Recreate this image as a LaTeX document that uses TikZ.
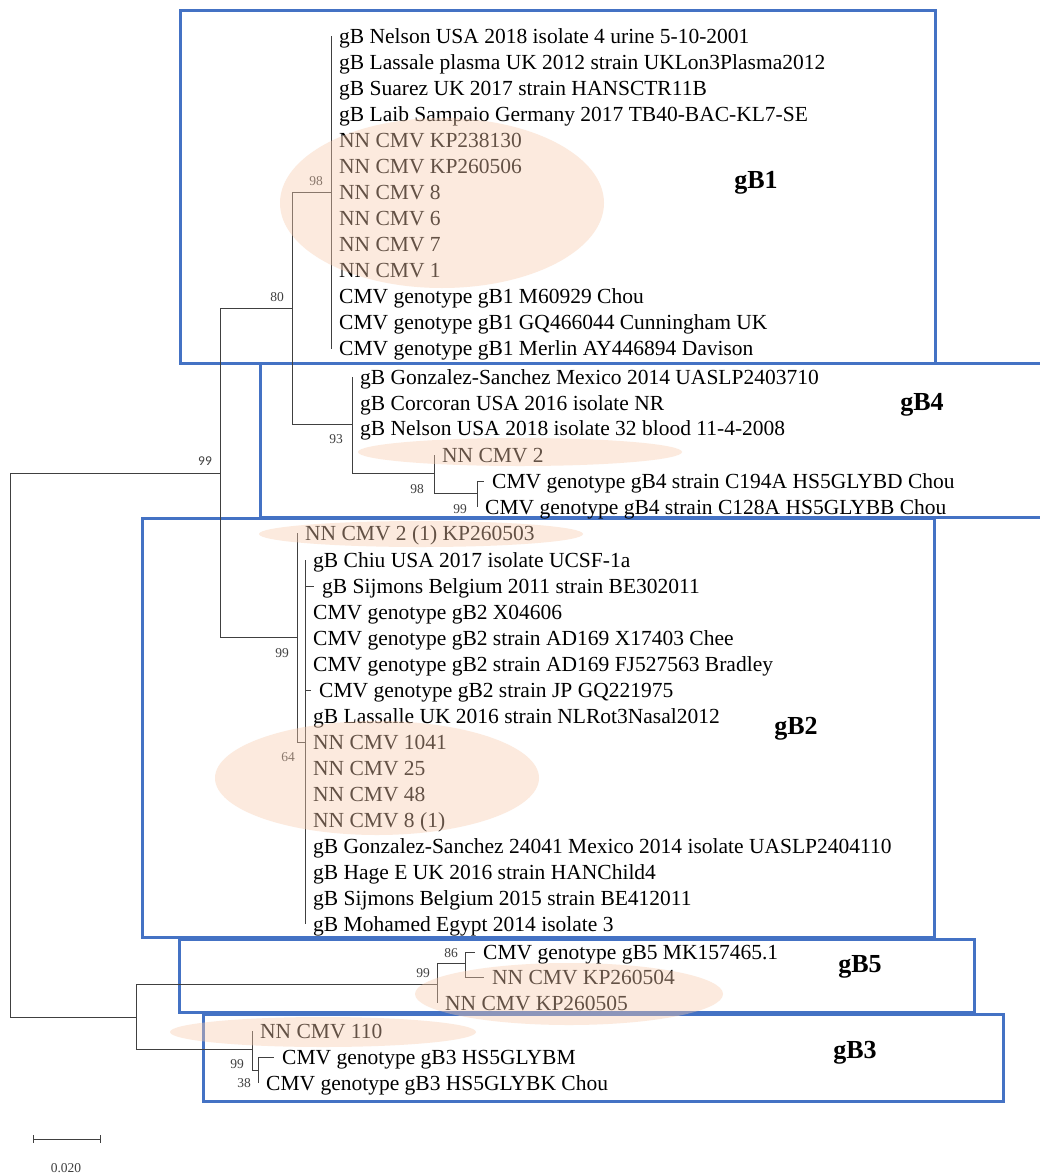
\documentclass[tikz,border=0pt]{standalone}
\usepackage{fontspec}
\setmainfont{Liberation Serif}
\newfontfamily\bootsans{Carlito}
\definecolor{cladeblue}{RGB}{68,114,196}
\definecolor{halopeach}{RGB}{248,203,173}
\definecolor{branchgray}{RGB}{64,64,64}

\begin{document}
\begin{tikzpicture}[x=1pt,y=-1pt,
    branch/.style={draw=branchgray,line width=0.95pt},
    leaf/.style={anchor=west,inner xsep=8pt,inner ysep=0pt,text height=14pt,text depth=0pt,font=\fontsize{21.5}{26}\selectfont},
    boot/.style={inner sep=0pt,text=black!75,font=\fontsize{13.5}{13.5}\selectfont},
    cladebox/.style={draw=cladeblue,line width=3pt},
    cladename/.style={inner sep=0pt,font=\bfseries\fontsize{26}{26}\selectfont},
    halo/.style={fill=halopeach,fill opacity=0.4}]
		\useasboundingbox (0,0) rectangle (1039,1175);
		\fill[white] (0,0) rectangle (1039,1175);

		% genotype boxes
		\draw[cladebox] (180,10) rectangle (935,363);
		\draw[cladebox] (1045,363) -- (260,363) -- (260,517) -- (1045,517);
		\draw[cladebox] (142,518) rectangle (934,937);
		\draw[cladebox] (179,939) rectangle (974,1012);
		\draw[cladebox] (203,1014) rectangle (1003,1101);
		\node[cladename] (lgB1) at (756,183) {gB1};
		\node[cladename] (lgB4) at (922,405) {gB4};
		\node[cladename] (lgB2) at (796,729) {gB2};
		\node[cladename] (lgB5) at (860,967) {gB5};
		\node[cladename] (lgB3) at (855,1053) {gB3};

		% internal nodes
		\coordinate (r) at (10,745);
		\coordinate (a) at (220,473);
		\coordinate (b) at (136,1017);
		\coordinate (n80) at (292,308);
		\coordinate (n98) at (331,192);
		\coordinate (n93) at (352,424);
		\coordinate (n98b) at (434,473);
		\coordinate (n99c) at (477,493);
		\coordinate (n99b) at (297,637);
		\coordinate (n64) at (305,742);
		\coordinate (n99d) at (437,984);
		\coordinate (n86) at (465,963);
		\coordinate (n99e) at (252,1049);
		\coordinate (n38) at (258,1070);

		% gB1 leaves
		\foreach \txt [count=\i] in {{gB Nelson USA 2018 isolate 4 urine 5-10-2001},
				{gB Lassale plasma UK 2012 strain UKLon3Plasma2012},
				{gB Suarez UK 2017 strain HANSCTR11B},
				{gB Laib Sampaio Germany 2017 TB40-BAC-KL7-SE},
				{NN CMV KP238130}, {NN CMV KP260506}, {NN CMV 8}, {NN CMV 6},
				{NN CMV 7}, {NN CMV 1},
				{CMV genotype gB1 M60929 Chou},
				{CMV genotype gB1 GQ466044 Cunningham UK},
				{CMV genotype gB1 Merlin AY446894 Davison}} {
				\node[leaf] (g1l\i) at (331,{36+26.08*(\i-1)}) {\txt};
				\draw[branch] (n98) |- (g1l\i.west);
			}

		% gB4 leaves
		\node[leaf] (g4l1) at (352,377) {gB Gonzalez-Sanchez Mexico 2014 UASLP2403710};
		\node[leaf] (g4l2) at (352,403) {gB Corcoran USA 2016 isolate NR};
		\node[leaf] (g4l3) at (352,428) {gB Nelson USA 2018 isolate 32 blood 11-4-2008};
		\node[leaf] (g4l4) at (434,455) {NN CMV 2};
		\node[leaf] (g4l5) at (484,481) {CMV genotype gB4 strain C194A HS5GLYBD Chou};
		\node[leaf] (g4l6) at (477,507) {CMV genotype gB4 strain C128A HS5GLYBB Chou};

		% gB2 leaves
		\node[leaf] (g2l0) at (297,533) {NN CMV 2 (1) KP260503};
		\foreach \dx/\txt [count=\i] in {0/{gB Chiu USA 2017 isolate UCSF-1a},
				9/{gB Sijmons Belgium 2011 strain BE302011},
				0/{CMV genotype gB2 X04606},
				0/{CMV genotype gB2 strain AD169 X17403 Chee},
				0/{CMV genotype gB2 strain AD169 FJ527563 Bradley},
				6/{CMV genotype gB2 strain JP GQ221975},
				0/{gB Lassalle UK 2016 strain NLRot3Nasal2012},
				0/{NN CMV 1041}, 0/{NN CMV 25}, 0/{NN CMV 48}, 0/{NN CMV 8 (1)},
				0/{gB Gonzalez-Sanchez 24041 Mexico 2014 isolate UASLP2404110},
				0/{gB Hage E UK 2016 strain HANChild4},
				0/{gB Sijmons Belgium 2015 strain BE412011},
				0/{gB Mohamed Egypt 2014 isolate 3}} {
				\node[leaf] (g2l\i) at ({305+\dx},{560+26*(\i-1)}) {\txt};
				\draw[branch] (n64) |- (g2l\i.west);
			}

		% gB5 and gB3 leaves
		\node[leaf] (g5l1) at (475,952) {CMV genotype gB5 MK157465.1};
		\node[leaf] (g5l2) at (484,977) {NN CMV KP260504};
		\node[leaf] (g5l3) at (437,1003) {NN CMV KP260505};
		\node[leaf] (g3l1) at (252,1031) {NN CMV 110};
		\node[leaf] (g3l2) at (274,1057) {CMV genotype gB3 HS5GLYBM};
		\node[leaf] (g3l3) at (258,1083) {CMV genotype gB3 HS5GLYBK Chou};

		% branches
		\draw[branch] (r) |- (a);
		\draw[branch] (r) |- (b);
		\draw[branch] (a) |- (n80);
		\draw[branch] (a) |- (n99b);
		\draw[branch] (n80) |- (n98);
		\draw[branch] (n80) |- (n93);
		\foreach \k in {1,2,3} \draw[branch] (n93) |- (g4l\k.west);
		\draw[branch] (n93) |- (n98b);
		\draw[branch] (n98b) |- (g4l4.west);
		\draw[branch] (n98b) |- (n99c);
		\draw[branch] (n99c) |- (g4l5.west);
		\draw[branch] (n99c) |- (g4l6.west);
		\draw[branch] (n99b) |- (g2l0.west);
		\draw[branch] (n99b) |- (n64);
		\draw[branch] (b) |- (n99d);
		\draw[branch] (b) |- (n99e);
		\draw[branch] (n99d) |- (n86);
		\draw[branch] (n99d) |- (g5l3.west);
		\draw[branch] (n86) |- (g5l1.west);
		\draw[branch] (n86) |- (g5l2.west);
		\draw[branch] (n99e) |- (g3l1.west);
		\draw[branch] (n99e) |- (n38);
		\draw[branch] (n38) |- (g3l2.west);
		\draw[branch] (n38) |- (g3l3.west);

		% bootstrap values
		\node[boot,font=\bootsans\fontsize{13.5}{13.5}\selectfont] (b99a) at (205,461) {99};
		\node[boot] (b80) at (277,297) {80};
		\node[boot] (b98) at (316,181) {98};
		\node[boot] (b93) at (336,439) {93};
		\node[boot] (b98b) at (417,489) {98};
		\node[boot] (b99c) at (460,509) {99};
		\node[boot] (b99b) at (282,653) {99};
		\node[boot] (b64) at (288,757) {64};
		\node[boot] (b86) at (451,953) {86};
		\node[boot] (b99d) at (423,973) {99};
		\node[boot] (b99e) at (237,1064) {99};
		\node[boot] (b38) at (244,1083) {38};

		% scale bar
		\coordinate (sbl) at (33,1139);
		\coordinate (sbr) at (100,1139);
		\draw[branch] (sbl) -- (sbr);
		\draw[branch] ([yshift=4pt]sbl) -- ([yshift=-4pt]sbl);
		\draw[branch] ([yshift=4pt]sbr) -- ([yshift=-4pt]sbr);
		\node[boot] (sbt) at (66,1168) {0.020};

		% highlighted isolates
		\fill[halo] (442,203) ellipse [x radius=162pt, y radius=85pt];
		\fill[halo] (520,452) ellipse [x radius=162pt, y radius=14pt];
		\fill[halo] (421,534) ellipse [x radius=162pt, y radius=13pt];
		\fill[halo] (377,778) ellipse [x radius=162pt, y radius=57pt];
		\fill[halo] (569,994) ellipse [x radius=154pt, y radius=31pt];
		\fill[halo] (323,1032) ellipse [x radius=153pt, y radius=15pt];
	\end{tikzpicture}
\end{document}
